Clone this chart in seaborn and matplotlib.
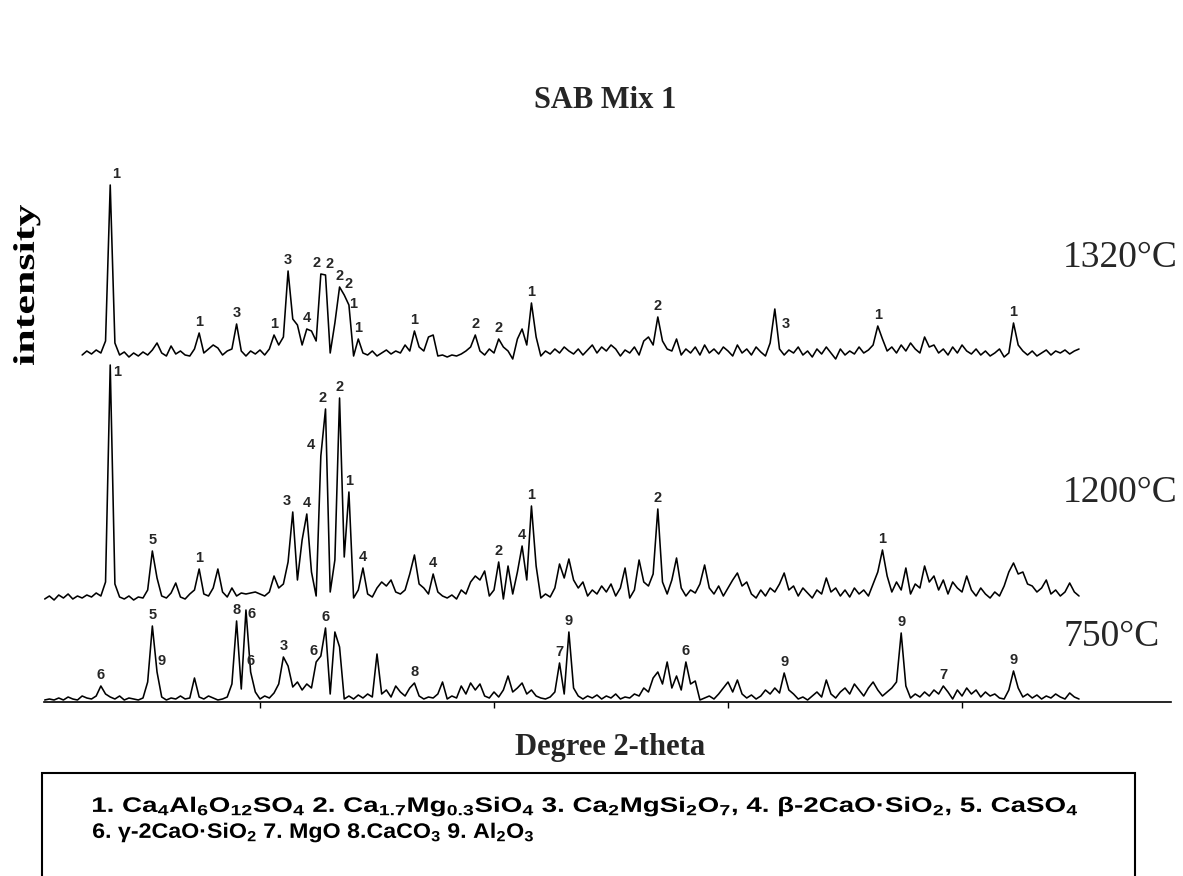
import numpy as np
import pandas as pd
import matplotlib.pyplot as plt
import seaborn as sns
from matplotlib.patches import Rectangle, PathPatch
from matplotlib.textpath import TextPath
from matplotlib.font_manager import FontProperties
from matplotlib.transforms import Affine2D

# 2-theta scan grid (degrees), step 0.2
two_theta = np.round(np.arange(10.8, 55.01, 0.2), 1)

# intensities (arbitrary units), one value per grid step
i_1320 = [np.nan, np.nan, np.nan, np.nan, np.nan, np.nan, np.nan, np.nan, 4, 8,
          5, 9, 6, 18, 174, 16, 4, 7, 2, 6,
          3, 7, 4, 9, 16, 6, 3, 13, 5, 8,
          4, 3, 10, 26, 6, 10, 14, 11, 4, 8,
          10, 35, 8, 3, 8, 5, 9, 4, 10, 24,
          14, 22, 88, 40, 34, 14, 30, 28, 18, 85,
          84, 6, 36, 72, 64, 54, 3, 20, 6, 4,
          8, 3, 6, 9, 5, 8, 6, 14, 8, 28,
          12, 8, 22, 24, 3, 4, 2, 4, 3, 5,
          8, 12, 24, 8, 4, 10, 6, 20, 12, 8,
          0, 20, 30, 14, 56, 22, 3, 8, 5, 10,
          6, 12, 8, 5, 10, 4, 9, 14, 6, 12,
          8, 14, 10, 3, 9, 6, 12, 4, 18, 22,
          14, 42, 18, 10, 8, 20, 4, 10, 6, 12,
          4, 14, 6, 10, 5, 12, 8, 3, 14, 6,
          10, 4, 12, 7, 3, 16, 50, 10, 4, 9,
          6, 12, 4, 8, 2, 10, 5, 12, 6, 0,
          10, 4, 8, 5, 12, 6, 9, 14, 33, 20,
          8, 12, 6, 14, 8, 16, 10, 6, 22, 12,
          14, 6, 10, 4, 12, 6, 14, 8, 5, 10,
          4, 8, 3, 6, 10, 2, 6, 36, 14, 8,
          4, 8, 3, 6, 9, 4, 8, 6, 9, 5,
          8, 10]

i_1200 = [3, 6, 2, 7, 4, 8, 3, 6, 4, 7,
          5, 9, 6, 20, 237, 18, 5, 3, 6, 2,
          5, 4, 12, 51, 24, 6, 4, 9, 19, 5,
          3, 8, 12, 33, 8, 6, 14, 33, 10, 5,
          14, 6, 9, 8, 9, 10, 8, 6, 10, 26,
          14, 18, 40, 90, 22, 62, 88, 30, 6, 146,
          193, 10, 42, 204, 45, 110, 4, 12, 34, 8,
          5, 14, 20, 16, 22, 10, 8, 12, 28, 47,
          18, 14, 8, 28, 10, 6, 4, 7, 3, 12,
          8, 20, 26, 22, 31, 6, 12, 40, 3, 36,
          8, 30, 56, 22, 96, 36, 4, 8, 5, 14,
          38, 24, 43, 22, 14, 20, 6, 12, 8, 16,
          10, 18, 6, 14, 34, 4, 12, 42, 20, 16,
          28, 93, 20, 8, 22, 44, 14, 6, 12, 9,
          18, 37, 14, 8, 16, 6, 14, 22, 29, 16,
          20, 8, 4, 12, 6, 14, 10, 18, 29, 12,
          16, 6, 14, 9, 4, 12, 8, 24, 10, 14,
          6, 12, 5, 14, 8, 12, 6, 18, 30, 52,
          26, 10, 20, 12, 34, 8, 18, 14, 36, 20,
          26, 12, 22, 8, 20, 14, 10, 26, 12, 6,
          14, 8, 4, 10, 6, 16, 30, 39, 28, 30,
          18, 16, 10, 14, 22, 8, 12, 6, 10, 19,
          10, 6]

i_750 = [2, 3, 2, 4, 2, 5, 3, 2, 6, 4,
         3, 6, 16, 8, 5, 3, 6, 2, 4, 3,
         2, 4, 20, 76, 30, 5, 2, 4, 3, 6,
         3, 4, 24, 5, 3, 6, 4, 2, 3, 5,
         18, 81, 13, 92, 30, 10, 3, 6, 4, 9,
         18, 45, 36, 15, 20, 12, 18, 14, 40, 46,
         74, 8, 70, 55, 3, 6, 3, 7, 4, 8,
         5, 48, 8, 12, 5, 16, 10, 6, 14, 19,
         6, 3, 5, 4, 8, 20, 3, 6, 4, 16,
         8, 19, 12, 18, 6, 4, 10, 5, 12, 26,
         10, 14, 19, 8, 12, 6, 4, 3, 5, 10,
         39, 8, 70, 14, 6, 3, 6, 4, 7, 3,
         6, 4, 8, 3, 5, 4, 8, 6, 14, 10,
         24, 30, 18, 40, 14, 26, 12, 40, 18, 21,
         2, 4, 6, 3, 8, 14, 20, 10, 22, 8,
         4, 7, 3, 6, 12, 8, 14, 9, 29, 12,
         8, 3, 5, 2, 6, 10, 5, 22, 8, 4,
         10, 14, 8, 18, 12, 6, 14, 20, 12, 6,
         10, 14, 20, 69, 16, 4, 8, 5, 10, 6,
         12, 8, 16, 10, 3, 12, 6, 14, 8, 12,
         5, 10, 6, 8, 4, 3, 12, 31, 14, 5,
         8, 4, 7, 3, 6, 4, 8, 5, 3, 9,
         5, 3]

temps = ['1320°C', '1200°C', '750°C']

# identified reflections: (2-theta, phase number)
peaks_1320 = [(13.6, '1'), (17.4, '1'), (19.0, '3'), (20.6, '1'), (21.2, '3'),
              (22.0, '4'), (22.6, '2'), (22.8, '2'), (23.4, '2'), (23.6, '2'),
              (23.8, '1'), (24.2, '1'), (26.6, '1'), (29.2, '2'), (30.2, '2'),
              (31.6, '1'), (37.0, '2'), (42.0, '3'), (46.4, '1'), (52.2, '1')]
peaks_1200 = [(13.6, '1'), (15.4, '5'), (17.4, '1'), (21.4, '3'), (22.0, '4'),
              (22.6, '4'), (22.8, '2'), (23.4, '2'), (23.8, '1'), (24.4, '4'),
              (27.4, '4'), (30.2, '2'), (31.2, '4'), (31.6, '1'), (37.0, '2'),
              (46.6, '1')]
peaks_750 = [(13.2, '6'), (15.4, '5'), (15.6, '9'), (19.0, '8'), (19.4, '6'),
             (19.6, '6'), (21.0, '3'), (22.4, '6'), (22.8, '6'), (26.6, '8'),
             (32.8, '7'), (33.2, '9'), (38.2, '6'), (42.4, '9'), (47.4, '9'),
             (49.2, '7'), (52.2, '9')]

legend_lines = [
    r'1. Ca$_4$Al$_6$O$_{12}$SO$_4$ 2. Ca$_{1.7}$Mg$_{0.3}$SiO$_4$ 3. Ca$_2$MgSi$_2$O$_7$, '
    r'4. β-2CaO·SiO$_2$, 5. CaSO$_4$',
    r'6. γ-2CaO·SiO$_2$ 7. MgO 8.CaCO$_3$ 9. Al$_2$O$_3$',
]

# vertical stacking of the scans
offsets = {'1320°C': 343, '1200°C': 100, '750°C': 0}
peaks = {'1320°C': peaks_1320, '1200°C': peaks_1200, '750°C': peaks_750}
series = {'1320°C': i_1320, '1200°C': i_1200, '750°C': i_750}

# small label shifts (points) where labels crowd together
nudge = {('1320°C', 13.6): (4, 0), ('1320°C', 22.6): (-3, 0), ('1320°C', 22.8): (3, 0),
         ('1320°C', 23.6): (3, 0), ('1320°C', 23.8): (3, -7), ('1320°C', 42.0): (8, -19),
         ('1200°C', 13.6): (5, -13), ('1200°C', 21.4): (-4, 0), ('1200°C', 22.6): (-7, 0),
         ('1200°C', 22.8): (-2, 0), ('750°C', 19.4): (4, -11), ('750°C', 15.6): (3, 0),
         ('750°C', 22.4): (-2, 0)}

sns.set_style('white')
plt.rcParams['font.family'] = ['Liberation Serif', 'DejaVu Serif']
plt.rcParams['mathtext.fontset'] = 'custom'
plt.rcParams['mathtext.rm'] = 'Liberation Sans:bold'
plt.rcParams['mathtext.it'] = 'Liberation Sans:bold'
plt.rcParams['mathtext.bf'] = 'Liberation Sans:bold'
plt.rcParams['mathtext.default'] = 'rm'

W, H = 1183, 876
fig = plt.figure(figsize=(W / 100, H / 100), dpi=100)
ax = fig.add_axes([44 / W, 1 - 702 / H, (1171 - 44) / W, (702 - 160) / H])


def wide_text(s, x, y, size, width, prop, rotate=0, anchor='left'):
    # text drawn as a path so it can be stretched to the width it has in the figure
    tp = TextPath((0, 0), s, size=size, prop=prop)
    ext = tp.get_extents()
    x0 = ext.x0 if anchor == 'left' else (ext.x0 + ext.x1) / 2
    y0 = 0 if anchor == 'left' else size * 0.33
    tr = (Affine2D().translate(-x0, -y0).scale(width / ext.width, 1)
          .rotate_deg(rotate).translate(x, H - y))
    fig.add_artist(PathPatch(tp, transform=tr, fc='black', lw=0))


df = pd.DataFrame({
    'two_theta': np.tile(two_theta, len(temps)),
    'intensity': i_1320 + i_1200 + i_750,
    'temp': np.repeat(temps, len(two_theta)),
})
df['shifted'] = df['intensity'] + df['temp'].map(offsets)

for t in temps:
    sns.lineplot(data=df[df['temp'] == t], x='two_theta', y='shifted',
                 color='black', lw=1.15, estimator=None, ax=ax)
    vals = series[t]
    for x, ph in peaks[t]:
        v = vals[int(round((x - 10.8) / 0.2))]
        dx, dy = nudge.get((t, x), (0, 0))
        ax.annotate(ph, (x, v + offsets[t]), xytext=(dx, 3 + dy), textcoords='offset points',
                    ha='center', va='bottom', fontsize=10.5, fontweight='bold',
                    family=['Liberation Sans Narrow', 'Liberation Sans'])

ax.set_xlim(10.77, 58.93)
ax.set_ylim(0, 542)
ax.set_xticks([20, 30, 40, 50])
ax.set_xticklabels([])
ax.set_yticks([])
ax.set_xlabel('')
ax.set_ylabel('')
for s in ['top', 'right', 'left']:
    ax.spines[s].set_visible(False)
ax.spines['bottom'].set_color('black')
ax.spines['bottom'].set_linewidth(1.2)
ax.tick_params(axis='x', direction='out', length=4.5, width=1, bottom=True, color='black')

fig.text(605 / W, 1 - 100 / H, 'SAB Mix 1', ha='center', va='center', fontsize=22, fontweight='bold')
fig.text(610 / W, 1 - 747 / H, 'Degree 2-theta', ha='center', va='center', fontsize=22, fontweight='bold')
wide_text('intensity', 24, 285, 30, 160,
          FontProperties(family='Liberation Serif', weight='bold'), rotate=90, anchor='center')

for t, ypx in zip(temps, [258, 493, 637]):
    fig.text(1063 / W, 1 - ypx / H, t, ha='left', va='center', fontsize=27)

# legend box for the phase numbers
fig.add_artist(Rectangle((42 / W, -0.05), (1135 - 42) / W, (876 - 773) / H + 0.05,
                         transform=fig.transFigure, fill=False, lw=1.5, ec='black'))
legend_font = FontProperties(family='Liberation Sans', weight='bold')
wide_text(legend_lines[0], 93, 812, 21, 984, legend_font)
wide_text(legend_lines[1], 93, 838, 21, 984 * 0.447, legend_font)

fig.savefig('out.png', dpi=100)
